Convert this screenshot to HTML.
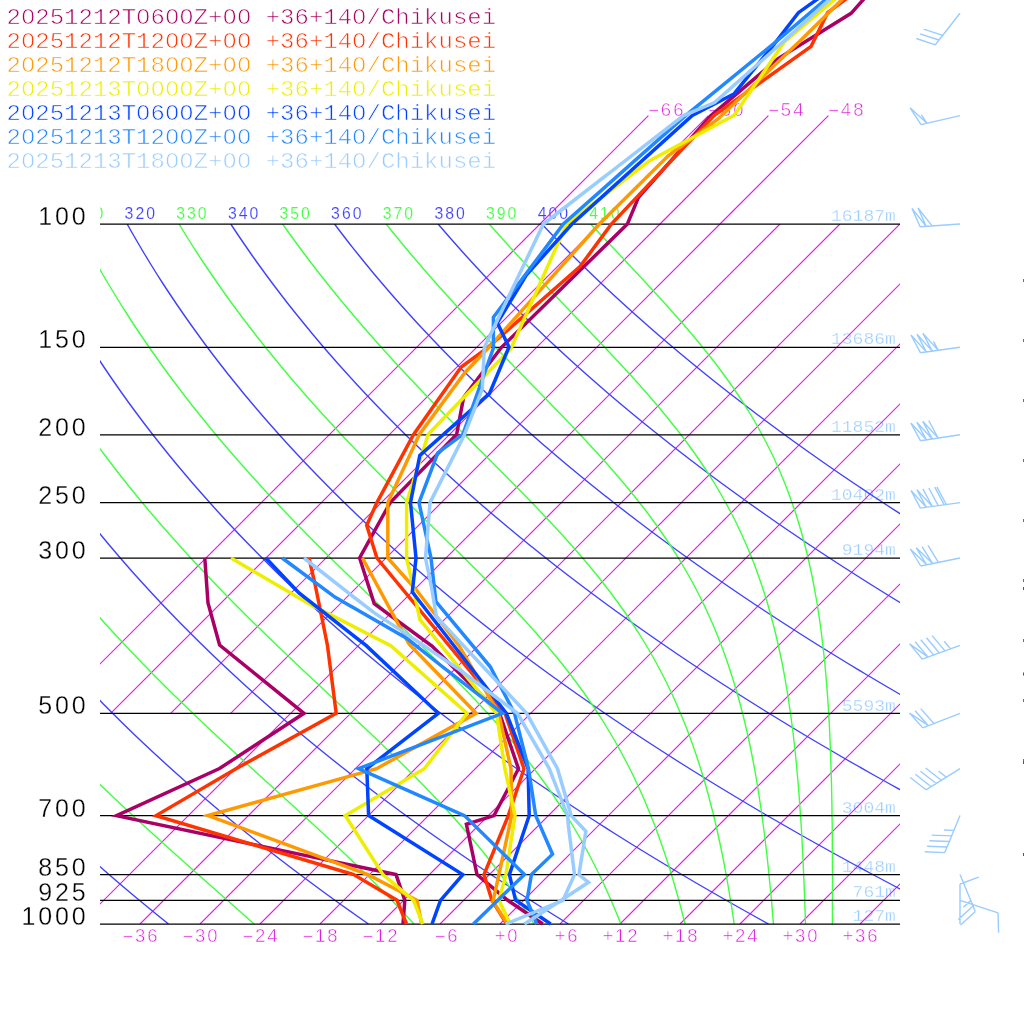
<!DOCTYPE html>
<html><head><meta charset="utf-8"><title>emagram</title>
<style>html,body{margin:0;padding:0;background:#fff}svg{display:block}</style></head>
<body><svg width="1024" height="1024" viewBox="0 0 1024 1024">
<defs><clipPath id="box"><rect x="100" y="224" width="800" height="700"/></clipPath>
<clipPath id="lab"><rect x="100" y="0" width="800" height="1024"/></clipPath></defs>
<rect width="1024" height="1024" fill="#fff"/>
<g opacity="0.999">
<g font-family="'Liberation Mono',monospace" font-size="24" transform="scale(1,0.934)" stroke="#fff" stroke-width="0.65">
<text x="6.5" y="25.7" fill="#aa0066" style="white-space:pre">20251212T0600Z+00 +36+140/Chikusei</text>
<text x="6.5" y="51.4" fill="#ff3300" style="white-space:pre">20251212T1200Z+00 +36+140/Chikusei</text>
<text x="6.5" y="77.1" fill="#ff9900" style="white-space:pre">20251212T1800Z+00 +36+140/Chikusei</text>
<text x="6.5" y="102.8" fill="#eeee00" style="white-space:pre">20251213T0000Z+00 +36+140/Chikusei</text>
<text x="6.5" y="128.5" fill="#0044ff" style="white-space:pre">20251213T0600Z+00 +36+140/Chikusei</text>
<text x="6.5" y="154.2" fill="#2288ff" style="white-space:pre">20251213T1200Z+00 +36+140/Chikusei</text>
<text x="6.5" y="179.9" fill="#99ccff" style="white-space:pre">20251213T1800Z+00 +36+140/Chikusei</text>
</g>
<path d="M28.2 16.5v0M143.4 16.5v0M172.2 16.5v0M186.6 16.5v0M229.8 16.5v0M244.2 16.5v0M359.4 16.5v0M28.2 40.5v0M172.2 40.5v0M186.6 40.5v0M229.8 40.5v0M244.2 40.5v0M359.4 40.5v0M28.2 64.5v0M172.2 64.5v0M186.6 64.5v0M229.8 64.5v0M244.2 64.5v0M359.4 64.5v0M28.2 88.5v0M143.4 88.5v0M157.8 88.5v0M172.2 88.5v0M186.6 88.5v0M229.8 88.5v0M244.2 88.5v0M359.4 88.5v0M28.2 112.5v0M143.4 112.5v0M172.2 112.5v0M186.6 112.5v0M229.8 112.5v0M244.2 112.5v0M359.4 112.5v0M28.2 136.5v0M172.2 136.5v0M186.6 136.5v0M229.8 136.5v0M244.2 136.5v0M359.4 136.5v0M28.2 160.5v0M172.2 160.5v0M186.6 160.5v0M229.8 160.5v0M244.2 160.5v0M359.4 160.5v0" fill="none" stroke="#fff" stroke-width="3.6" stroke-linecap="round"/>
<path d="M847.2 494.3v0M868.8 494.3v0M858 807.3v0M868.8 807.3v0" fill="none" stroke="#fff" stroke-width="2.7" stroke-linecap="round"/>
<g font-family="'Liberation Sans',sans-serif" font-size="25" fill="#000" text-anchor="middle" stroke="#fff" stroke-width="0.3">
<text x="45.2 62 78.7" y="225">100</text>
<text x="45.2 62 78.7" y="348.3">150</text>
<text x="45.2 62 78.7" y="435.7">200</text>
<text x="45.2 62 78.7" y="503.6">250</text>
<text x="45.2 62 78.7" y="559">300</text>
<text x="45.2 62 78.7" y="714.3">500</text>
<text x="45.2 62 78.7" y="816.6">700</text>
<text x="45.2 62 78.7" y="875.6">850</text>
<text x="45.2 62 78.7" y="901.3">925</text>
<text x="28.5 45.2 62 78.7" y="925">1000</text>
</g>
<g clip-path="url(#lab)" font-family="'Liberation Sans',sans-serif" font-size="15.8" letter-spacing="2.0" stroke="#fff" stroke-width="0.15">
<text x="73" y="218.7" fill="#40ff40">310</text>
<text x="124.6" y="218.7" fill="#4040ff">320</text>
<text x="176.2" y="218.7" fill="#40ff40">330</text>
<text x="227.9" y="218.7" fill="#4040ff">340</text>
<text x="279.5" y="218.7" fill="#40ff40">350</text>
<text x="331.1" y="218.7" fill="#4040ff">360</text>
<text x="382.8" y="218.7" fill="#40ff40">370</text>
<text x="434.4" y="218.7" fill="#4040ff">380</text>
<text x="486" y="218.7" fill="#40ff40">390</text>
<text x="537.7" y="218.7" fill="#4040ff">400</text>
<text x="589.3" y="218.7" fill="#40ff40">410</text>
</g>
<g font-family="'Liberation Sans',sans-serif" font-size="18.5" fill="#dd22dd" text-anchor="middle" stroke="#fff" stroke-width="0.5">
<text y="942.2"><tspan x="127.9" textLength="13" lengthAdjust="spacingAndGlyphs">-</tspan><tspan x="140.2">3</tspan><tspan x="152.5">6</tspan></text>
<text y="942.2"><tspan x="187.9" textLength="13" lengthAdjust="spacingAndGlyphs">-</tspan><tspan x="200.2">3</tspan><tspan x="212.5">0</tspan></text>
<text y="942.2"><tspan x="247.9" textLength="13" lengthAdjust="spacingAndGlyphs">-</tspan><tspan x="260.2">2</tspan><tspan x="272.5">4</tspan></text>
<text y="942.2"><tspan x="307.9" textLength="13" lengthAdjust="spacingAndGlyphs">-</tspan><tspan x="320.2">1</tspan><tspan x="332.5">8</tspan></text>
<text y="942.2"><tspan x="367.9" textLength="13" lengthAdjust="spacingAndGlyphs">-</tspan><tspan x="380.2">1</tspan><tspan x="392.5">2</tspan></text>
<text y="942.2"><tspan x="440.2" textLength="13" lengthAdjust="spacingAndGlyphs">-</tspan><tspan x="452.5">6</tspan></text>
<text y="942.2"><tspan x="500.2">+</tspan><tspan x="512.5">0</tspan></text>
<text y="942.2"><tspan x="560.2">+</tspan><tspan x="572.5">6</tspan></text>
<text y="942.2"><tspan x="607.9">+</tspan><tspan x="620.2">1</tspan><tspan x="632.5">2</tspan></text>
<text y="942.2"><tspan x="667.9">+</tspan><tspan x="680.2">1</tspan><tspan x="692.5">8</tspan></text>
<text y="942.2"><tspan x="727.9">+</tspan><tspan x="740.2">2</tspan><tspan x="752.5">4</tspan></text>
<text y="942.2"><tspan x="787.9">+</tspan><tspan x="800.2">3</tspan><tspan x="812.5">0</tspan></text>
<text y="942.2"><tspan x="847.9">+</tspan><tspan x="860.2">3</tspan><tspan x="872.5">6</tspan></text>
<text y="115.7"><tspan x="653.7" textLength="13" lengthAdjust="spacingAndGlyphs">-</tspan><tspan x="666">6</tspan><tspan x="678.3">6</tspan></text>
<text y="115.7"><tspan x="713.7" textLength="13" lengthAdjust="spacingAndGlyphs">-</tspan><tspan x="726">6</tspan><tspan x="738.3">0</tspan></text>
<text y="115.7"><tspan x="773.7" textLength="13" lengthAdjust="spacingAndGlyphs">-</tspan><tspan x="786">5</tspan><tspan x="798.3">4</tspan></text>
<text y="115.7"><tspan x="833.7" textLength="13" lengthAdjust="spacingAndGlyphs">-</tspan><tspan x="846">4</tspan><tspan x="858.3">8</tspan></text>
</g>
<g font-family="'Liberation Mono',monospace" font-size="18" fill="#99ccff" text-anchor="end" transform="scale(1,0.92)" stroke="#fff" stroke-width="0.35">
<text x="895.8" y="240.4">16187m</text>
<text x="895.8" y="374.4">13686m</text>
<text x="895.8" y="469.5">11852m</text>
<text x="895.8" y="543.2">10402m</text>
<text x="895.8" y="603.5">9194m</text>
<text x="895.8" y="772.3">5593m</text>
<text x="895.8" y="883.4">3004m</text>
<text x="895.8" y="947.6">1448m</text>
<text x="895.8" y="975.5">761m</text>
<text x="895.8" y="1001.3">127m</text>
</g>
<rect x="1023" y="279" width="1" height="3" fill="#dd22dd"/>
<rect x="1023" y="339" width="1" height="3" fill="#dd22dd"/>
<rect x="1023" y="399" width="1" height="3" fill="#dd22dd"/>
<rect x="1023" y="459" width="1" height="3" fill="#dd22dd"/>
<rect x="1023" y="519" width="1" height="3" fill="#dd22dd"/>
<rect x="1023" y="579" width="1" height="3" fill="#dd22dd"/>
<rect x="1023" y="639" width="1" height="3" fill="#dd22dd"/>
<rect x="1023" y="699" width="1" height="3" fill="#dd22dd"/>
<rect x="1023" y="759" width="1" height="3" fill="#dd22dd"/>
<rect x="1023" y="587" width="1" height="3" fill="#4040ff"/>
<rect x="1023" y="672.5" width="1" height="3" fill="#4040ff"/>
<rect x="1023" y="761" width="1" height="3" fill="#4040ff"/>
<rect x="1023" y="853" width="1" height="3" fill="#4040ff"/>
</g>
<g clip-path="url(#box)" fill="none" stroke-width="1.4">
<path stroke="#dd22dd" stroke-width="1.2" d="M50.7 713.3L540 224M110.7 713.3L600 224M170.7 713.3L660 224M230.7 713.3L720 224M80 924L780 224M140 924L840 224M200 924L900 224M260 924L960 224M320 924L1020 224M380 924L1080 224M440 924L1140 224M500 924L1200 224M560 924L1260 224M620 924L1320 224M680 924L1380 224M740 924L1440 224M800 924L1500 224M860 924L1560 224"/>
<path stroke="#4040ff" d="M-287.5 224L-285.8 234L-283.9 244L-282 254L-279.9 264L-277.7 274L-275.4 284L-273 294L-270.5 304L-267.9 314L-265.1 324L-262.2 334L-259.2 344L-256.1 354L-252.8 364L-249.4 374L-245.9 384L-242.3 394L-238.5 404L-234.6 414L-230.6 424L-226.4 434L-222.1 444L-217.7 454L-213.2 464L-208.5 474L-203.6 484L-198.6 494L-193.5 504L-188.3 514L-182.9 524L-177.3 534L-171.6 544L-165.8 554L-159.8 564L-153.6 574L-147.3 584L-140.9 594L-134.3 604L-127.5 614L-120.6 624L-113.5 634L-106.3 644L-98.9 654L-91.3 664L-83.6 674L-75.7 684L-67.6 694L-59.3 704L-50.9 714L-42.3 724L-33.6 734L-24.6 744L-15.5 754L-6.2 764L3.3 774L12.9 784L22.8 794L32.8 804L43 814L53.4 824L64.1 834L74.9 844L85.9 854L97.1 864L108.4 874L120 884L131.8 894L143.9 904L156.1 914L168.5 924M-183.9 224L-181.2 234L-178.3 244L-175.4 254L-172.3 264L-169.1 274L-165.8 284L-162.3 294L-158.8 304L-155 314L-151.2 324L-147.3 334L-143.2 344L-138.9 354L-134.6 364L-130.1 374L-125.4 384L-120.7 394L-115.8 404L-110.7 414L-105.5 424L-100.2 434L-94.7 444L-89.1 454L-83.3 464L-77.4 474L-71.3 484L-65.1 494L-58.7 504L-52.2 514L-45.5 524L-38.6 534L-31.6 544L-24.5 554L-17.1 564L-9.6 574L-2 584L5.8 594L13.8 604L22 614L30.3 624L38.8 634L47.5 644L56.4 654L65.4 664L74.6 674L84 684L93.6 694L103.3 704L113.3 714L123.4 724L133.7 734L144.3 744L155 754L165.9 764L177 774L188.3 784L199.8 794L211.5 804L223.4 814L235.5 824L247.8 834L260.4 844L273.1 854L286.1 864L299.3 874L312.7 884L326.3 894L340.1 904L354.2 914L368.5 924M-80.2 224L-76.5 234L-72.7 244L-68.7 254L-64.7 264L-60.4 274L-56.1 284L-51.6 294L-47 304L-42.2 314L-37.3 324L-32.3 334L-27.1 344L-21.8 354L-16.3 364L-10.7 374L-5 384L0.9 394L7 404L13.2 414L19.6 424L26.1 434L32.7 444L39.6 454L46.6 464L53.7 474L61 484L68.5 494L76.1 504L83.9 514L91.9 524L100.1 534L108.4 544L116.9 554L125.5 564L134.3 574L143.4 584L152.6 594L161.9 604L171.5 614L181.2 624L191.2 634L201.3 644L211.6 654L222.1 664L232.8 674L243.6 684L254.7 694L266 704L277.5 714L289.2 724L301.1 734L313.2 744L325.5 754L338 764L350.7 774L363.7 784L376.8 794L390.2 804L403.8 814L417.6 824L431.6 834L445.9 844L460.4 854L475.1 864L490.1 874L505.3 884L520.7 894L536.4 904L552.3 914L568.5 924M23.5 224L28.1 234L32.9 244L37.9 254L43 264L48.2 274L53.6 284L59.1 294L64.7 304L70.6 314L76.5 324L82.6 334L88.9 344L95.3 354L101.9 364L108.6 374L115.5 384L122.5 394L129.7 404L137.1 414L144.6 424L152.3 434L160.2 444L168.2 454L176.4 464L184.8 474L193.3 484L202.1 494L211 504L220 514L229.3 524L238.7 534L248.4 544L258.2 554L268.2 564L278.3 574L288.7 584L299.3 594L310 604L321 614L332.1 624L343.5 634L355 644L366.8 654L378.8 664L390.9 674L403.3 684L415.9 694L428.7 704L441.7 714L454.9 724L468.4 734L482.1 744L496 754L510.1 764L524.4 774L539 784L553.8 794L568.9 804L584.2 814L599.7 824L615.4 834L631.4 844L647.7 854L664.2 864L680.9 874L697.9 884L715.2 894L732.7 904L750.5 914L768.5 924M127.1 224L132.8 234L138.6 244L144.5 254L150.6 264L156.8 274L163.2 284L169.8 294L176.5 304L183.4 314L190.4 324L197.6 334L204.9 344L212.4 354L220.1 364L227.9 374L236 384L244.1 394L252.5 404L261 414L269.7 424L278.6 434L287.6 444L296.9 454L306.3 464L315.9 474L325.7 484L335.6 494L345.8 504L356.1 514L366.7 524L377.4 534L388.3 544L399.5 554L410.8 564L422.3 574L434.1 584L446 594L458.1 604L470.5 614L483 624L495.8 634L508.8 644L522 654L535.4 664L549.1 674L563 684L577.1 694L591.4 704L605.9 714L620.7 724L635.7 734L651 744L666.5 754L682.2 764L698.2 774L714.4 784L730.9 794L747.6 804L764.5 814L781.8 824L799.2 834L817 844L835 854L853.2 864L871.8 874L890.6 884L909.6 894L929 904L948.6 914L968.5 924M230.8 224L237.4 234L244.2 244L251.1 254L258.2 264L265.5 274L272.9 284L280.5 294L288.2 304L296.2 314L304.3 324L312.5 334L320.9 344L329.5 354L338.3 364L347.3 374L356.4 384L365.7 394L375.2 404L384.9 414L394.8 424L404.8 434L415.1 444L425.5 454L436.2 464L447 474L458 484L469.2 494L480.6 504L492.2 514L504.1 524L516.1 534L528.3 544L540.8 554L553.4 564L566.3 574L579.4 584L592.7 594L606.2 604L620 614L634 624L648.2 634L662.6 644L677.2 654L692.1 664L707.2 674L722.6 684L738.2 694L754.1 704L770.1 714L786.5 724L803 734L819.9 744L837 754L854.3 764L871.9 774L889.8 784L907.9 794L926.3 804L944.9 814L963.8 824L983 834L1002.5 844L1022.2 854L1042.3 864L1062.6 874L1083.2 884L1104.1 894L1125.3 904L1146.7 914L1168.5 924M334.5 224L342.1 234L349.8 244L357.8 254L365.9 264L374.1 274L382.6 284L391.2 294L400 304L409 314L418.1 324L427.5 334L437 344L446.7 354L456.6 364L466.6 374L476.9 384L487.3 394L498 404L508.8 414L519.9 424L531.1 434L542.5 444L554.2 454L566 464L578.1 474L590.3 484L602.8 494L615.5 504L628.4 514L641.5 524L654.8 534L668.3 544L682.1 554L696.1 564L710.3 574L724.8 584L739.4 594L754.3 604L769.5 614L784.9 624L800.5 634L816.3 644L832.5 654L848.8 664L865.4 674L882.3 684L899.4 694L916.7 704L934.4 714L952.2 724L970.4 734L988.8 744L1007.5 754L1026.4 764L1045.6 774L1065.1 784L1084.9 794L1104.9 804L1125.3 814L1145.9 824L1166.8 834L1188 844L1209.5 854L1231.3 864L1253.4 874L1275.8 884L1298.5 894L1321.5 904L1344.9 914L1368.5 924M438.1 224L446.7 234L455.5 244L464.4 254L473.5 264L482.8 274L492.3 284L501.9 294L511.7 304L521.8 314L532 324L542.4 334L553 344L563.8 354L574.8 364L586 374L597.4 384L608.9 394L620.7 404L632.7 414L644.9 424L657.4 434L670 444L682.8 454L695.9 464L709.1 474L722.6 484L736.4 494L750.3 504L764.5 514L778.8 524L793.5 534L808.3 544L823.4 554L838.7 564L854.3 574L870.1 584L886.1 594L902.4 604L919 614L935.8 624L952.8 634L970.1 644L987.7 654L1005.5 664L1023.6 674L1041.9 684L1060.5 694L1079.4 704L1098.6 714L1118 724L1137.7 734L1157.7 744L1178 754L1198.5 764L1219.4 774L1240.5 784L1261.9 794L1283.6 804L1305.7 814L1328 824L1350.6 834L1373.6 844L1396.8 854L1420.4 864L1444.3 874L1468.4 884L1493 894L1517.8 904L1543 914L1568.5 924M541.8 224L551.3 234L561.1 244L571 254L581.1 264L591.4 274L601.9 284L612.6 294L623.5 304L634.6 314L645.9 324L657.3 334L669 344L680.9 354L693 364L705.3 374L717.8 384L730.5 394L743.5 404L756.6 414L770 424L783.6 434L797.4 444L811.5 454L825.7 464L840.2 474L855 484L869.9 494L885.1 504L900.6 514L916.2 524L932.1 534L948.3 544L964.7 554L981.4 564L998.3 574L1015.4 584L1032.9 594L1050.5 604L1068.5 614L1086.7 624L1105.2 634L1123.9 644L1142.9 654L1162.2 664L1181.7 674L1201.6 684L1221.7 694L1242.1 704L1262.8 714L1283.8 724L1305 734L1326.6 744L1348.5 754L1370.6 764L1393.1 774L1415.9 784L1438.9 794L1462.3 804L1486 814L1510.1 824L1534.4 834L1559.1 844L1584.1 854L1609.4 864L1635.1 874L1661.1 884L1687.4 894L1714.1 904L1741.1 914L1768.5 924"/>
<path stroke="#40ff40" d="M-235.7 224L-233.5 234L-231.1 244L-228.7 254L-226.1 264L-223.4 274L-220.6 284L-217.7 294L-214.6 304L-211.5 314L-208.2 324L-204.7 334L-201.2 344L-197.5 354L-193.7 364L-189.7 374L-185.7 384L-181.5 394L-177.1 404L-172.7 414L-168.1 424L-163.3 434L-158.4 444L-153.4 454L-148.2 464L-142.9 474L-137.5 484L-131.9 494L-126.1 504L-120.2 514L-114.2 524L-108 534L-101.6 544L-95.1 554L-88.5 564L-81.6 574L-74.7 584L-67.5 594L-60.2 604L-52.8 614L-45.2 624L-37.4 634L-29.4 644L-21.3 654L-13 664L-4.6 674L4.1 684L12.8 694L21.8 704L30.9 714L40.2 724L49.7 734L59.3 744L69.1 754L79.1 764L89.2 774L99.5 784L109.9 794L120.5 804L131.2 814L142 824L153 834L164 844L175.1 854L186.3 864L197.6 874L208.9 884L220.2 894L231.6 904L242.9 914L254.1 924M-132 224L-128.8 234L-125.5 244L-122.1 254L-118.5 264L-114.8 274L-110.9 284L-107 294L-102.9 304L-98.6 314L-94.3 324L-89.8 334L-85.1 344L-80.4 354L-75.5 364L-70.4 374L-65.2 384L-59.9 394L-54.4 404L-48.8 414L-43 424L-37.1 434L-31 444L-24.7 454L-18.4 464L-11.8 474L-5.1 484L1.7 494L8.7 504L15.9 514L23.2 524L30.7 534L38.3 544L46.2 554L54.1 564L62.3 574L70.6 584L79.1 594L87.7 604L96.5 614L105.5 624L114.7 634L124 644L133.5 654L143.1 664L152.9 674L162.8 684L172.9 694L183.2 704L193.6 714L204.1 724L214.7 734L225.4 744L236.2 754L247.1 764L258 774L269 784L280 794L291 804L301.9 814L312.8 824L323.7 834L334.4 844L345 854L355.4 864L365.7 874L375.8 884L385.7 894L395.3 904L404.7 914L413.9 924M-28.4 224L-24.2 234L-19.9 244L-15.4 254L-10.8 264L-6.1 274L-1.3 284L3.7 294L8.9 304L14.2 314L19.6 324L25.2 334L30.9 344L36.7 354L42.8 364L48.9 374L55.3 384L61.7 394L68.4 404L75.1 414L82.1 424L89.2 434L96.4 444L103.9 454L111.5 464L119.2 474L127.1 484L135.2 494L143.4 504L151.8 514L160.4 524L169.2 534L178.1 544L187.1 554L196.4 564L205.8 574L215.3 584L225 594L234.8 604L244.8 614L254.9 624L265.2 634L275.5 644L286 654L296.5 664L307.1 674L317.8 684L328.4 694L339.1 704L349.8 714L360.5 724L371.1 734L381.5 744L391.9 754L402.2 764L412.2 774L422.1 784L431.8 794L441.3 804L450.5 814L459.4 824L468.1 834L476.6 844L484.7 854L492.6 864L500.2 874L507.5 884L514.5 894L521.3 904L527.8 914L534.1 924M75.3 224L80.5 234L85.8 244L91.2 254L96.8 264L102.5 274L108.4 284L114.4 294L120.6 304L127 314L133.4 324L140.1 334L146.9 344L153.9 354L161 364L168.2 374L175.7 384L183.3 394L191 404L199 414L207.1 424L215.3 434L223.7 444L232.3 454L241.1 464L250 474L259 484L268.2 494L277.6 504L287.1 514L296.8 524L306.6 534L316.5 544L326.6 554L336.7 564L347 574L357.3 584L367.7 594L378.1 604L388.5 614L398.9 624L409.3 634L419.7 644L429.9 654L440.1 664L450.1 674L459.9 684L469.6 694L479 704L488.3 714L497.2 724L506 734L514.4 744L522.6 754L530.5 764L538.1 774L545.4 784L552.4 794L559.1 804L565.6 814L571.8 824L577.7 834L583.4 844L588.8 854L594 864L599 874L603.8 884L608.3 894L612.7 904L616.9 914L620.9 924M179 224L185.1 234L191.4 244L197.8 254L204.4 264L211.2 274L218.1 284L225.1 294L232.3 304L239.7 314L247.3 324L255 334L262.8 344L270.9 354L279.1 364L287.4 374L295.9 384L304.6 394L313.4 404L322.4 414L331.6 424L340.8 434L350.3 444L359.8 454L369.5 464L379.3 474L389.2 484L399.2 494L409.3 504L419.5 514L429.6 524L439.8 534L450 544L460.2 554L470.3 564L480.3 574L490.2 584L499.9 594L509.5 604L518.9 614L528 624L537 634L545.6 644L554 654L562.2 664L570 674L577.5 684L584.8 694L591.7 704L598.4 714L604.7 724L610.8 734L616.6 744L622.1 754L627.4 764L632.4 774L637.2 784L641.8 794L646.1 804L650.2 814L654.2 824L657.9 834L661.5 844L664.9 854L668.2 864L671.3 874L674.3 884L677.1 894L679.9 904L682.5 914L685 924M282.6 224L289.7 234L297 244L304.4 254L312 264L319.7 274L327.6 284L335.7 294L343.9 304L352.3 314L360.8 324L369.5 334L378.4 344L387.4 354L396.5 364L405.8 374L415.2 384L424.8 394L434.4 404L444.2 414L454 424L463.9 434L473.8 444L483.8 454L493.8 464L503.7 474L513.6 484L523.4 494L533.2 504L542.7 514L552.2 524L561.4 534L570.4 544L579.2 554L587.7 564L596 574L603.9 584L611.6 594L619 604L626.1 614L632.8 624L639.3 634L645.4 644L651.3 654L656.9 664L662.2 674L667.2 684L672 694L676.5 704L680.8 714L684.9 724L688.8 734L692.4 744L695.9 754L699.2 764L702.3 774L705.3 784L708.1 794L710.7 804L713.3 814L715.7 824L717.9 834L720.1 844L722.2 854L724.2 864L726 874L727.8 884L729.5 894L731.2 904L732.7 914L734.2 924M386.1 224L394.2 234L402.4 244L410.7 254L419.3 264L427.9 274L436.7 284L445.7 294L454.8 304L464 314L473.4 324L482.8 334L492.4 344L502 354L511.7 364L521.5 374L531.2 384L541 394L550.8 404L560.4 414L570.1 424L579.6 434L588.9 444L598.1 454L607.1 464L615.8 474L624.4 484L632.6 494L640.6 504L648.3 514L655.6 524L662.7 534L669.5 544L675.9 554L682 564L687.8 574L693.4 584L698.6 594L703.6 604L708.2 614L712.7 624L716.9 634L720.8 644L724.5 654L728 664L731.3 674L734.4 684L737.4 694L740.1 704L742.7 714L745.2 724L747.5 734L749.7 744L751.7 754L753.7 764L755.5 774L757.2 784L758.8 794L760.3 804L761.8 814L763.1 824L764.4 834L765.6 844L766.8 854L767.9 864L768.9 874L769.9 884L770.9 894L771.8 904L772.6 914L773.4 924M489.2 224L498.1 234L507.1 244L516.2 254L525.5 264L534.8 274L544.2 284L553.7 294L563.3 304L572.9 314L582.5 324L592 334L601.6 344L611 354L620.3 364L629.6 374L638.6 384L647.4 394L656.1 404L664.4 414L672.5 424L680.4 434L687.9 444L695.1 454L702 464L708.6 474L714.9 484L720.8 494L726.4 504L731.8 514L736.8 524L741.5 534L746 544L750.2 554L754.2 564L757.9 574L761.3 584L764.6 594L767.7 604L770.5 614L773.2 624L775.7 634L778 644L780.2 654L782.3 664L784.2 674L785.9 684L787.6 694L789.1 704L790.6 714L791.9 724L793.2 734L794.3 744L795.4 754L796.4 764L797.3 774L798.2 784L799 794L799.7 804L800.4 814L801.1 824L801.7 834L802.2 844L802.7 854L803.2 864L803.6 874L804.1 884L804.5 894L804.8 904L805.2 914L805.5 924M590.7 224L600 234L609.4 244L618.9 254L628.3 264L637.7 274L647 284L656.2 294L665.4 304L674.3 314L683.1 324L691.7 334L700 344L708.1 354L715.9 364L723.4 374L730.6 384L737.5 394L744 404L750.3 414L756.2 424L761.7 434L767 444L772 454L776.6 464L781 474L785.1 484L788.9 494L792.5 504L795.9 514L799 524L801.9 534L804.6 544L807.1 554L809.4 564L811.6 574L813.6 584L815.4 594L817.2 604L818.7 614L820.2 624L821.5 634L822.7 644L823.8 654L824.9 664L825.8 674L826.6 684L827.4 694L828.1 704L828.7 714L829.3 724L829.8 734L830.2 744L830.6 754L830.9 764L831.2 774L831.5 784L831.7 794L831.9 804L832 814L832.2 824L832.3 834L832.3 844L832.4 854L832.4 864L832.5 874L832.5 884L832.4 894L832.4 904L832.4 914L832.4 924"/>
</g>
<path fill="none" stroke="#dd22dd" stroke-width="1.2" d="M540 224L648.4 115.6M600 224L708.4 115.6M660 224L768.4 115.6M720 224L828.4 115.6"/>
<path fill="none" stroke="#000" stroke-width="1.3" d="M100 224.10H900M100 347.36H900M100 434.82H900M100 502.66H900M100 558.08H900M100 713.38H900M100 815.67H900M100 874.69H900M100 900.40H900M100 924.10H900"/>
<path fill="none" stroke="#99ccff" stroke-width="1.4" stroke-linejoin="miter" d="M960 13.3L935.3 44.8M935.3 44.8L916.3 38.5M939 40L920 33.8M942.7 35.3L923.7 29.1M960 115.6L921 124.6M921 124.6L910.1 107.8L926.9 123.2M926.9 123.2L921.4 114.8M960 224L920.1 226.7M920.1 226.7L912 208.4L926.1 226.3M926.1 226.3L918 208L932.1 225.9M960 347.3L920.4 352.7M920.4 352.7L911 335L926.3 351.9M926.3 351.9L917 334.2L932.3 351.1M932.3 351.1L922.9 333.4L938.2 350.2M938.2 350.2L933.5 341.4M960 434.7L920.4 440.7M920.4 440.7L910.9 423.1L926.4 439.8M926.4 439.8L916.8 422.2L932.3 438.9M932.3 438.9L922.7 421.3L938.2 438M938.2 438L928.7 420.5M960 502.6L920.4 508.1M920.4 508.1L911 490.5L926.3 507.3M926.3 507.3L916.9 489.6L932.3 506.5M932.3 506.5L922.9 488.8M938.2 505.6L928.8 488M944.2 504.8L934.8 487.1M946.3 504.5L936.9 486.8M960 558L920.8 566M920.8 566L910.3 549L926.7 564.8M926.7 564.8L916.2 547.8L932.6 563.6M932.6 563.6L922.1 546.6M938.4 562.4L928 545.4M960 645.4L922.4 659.2M922.4 659.2L909.6 643.9L928.1 657.1M928.1 657.1L915.2 641.8M933.7 655.1L920.8 639.8M939.3 653L926.5 637.7M945 650.9L932.1 635.6M950.6 648.9L944.2 641.2M960 713.3L922.8 727.9M922.8 727.9L909.5 713L928.4 725.7M928.4 725.7L915.1 710.8M933.9 723.5L920.7 708.6M960 768.7L926 789.8M926 789.8L910.3 777.5M931.1 786.7L915.4 774.3M936.2 783.5L920.5 771.2M941.3 780.3L925.6 768M946.4 777.2L938.5 771M960 815.6L944.8 852.6M944.8 852.6L924.8 851.8M947.1 847L927.1 846.2M949.4 841.5L929.4 840.7M951.7 835.9L931.7 835.1M953.9 830.4L943.9 830M960 874.6L975.3 911.5M975.3 911.5L960.6 925.1M973 906L958.3 919.5M970.7 900.5L963.3 907.2M960 900.3L998 912.8M998 912.8L998.6 932.8M960 924L960 884M960 884L978.8 877.2"/>
<polyline fill="none" stroke="#aa0066" stroke-width="3.5" stroke-linejoin="miter" points="871.9,-10 851.1,13.3 778.1,58.6 711,115.6 638.5,197.4 627.4,224 501.5,347.3 463.6,397.5 456.6,434.5 390.2,502.6 359.6,558 374.2,603.6 432,646 499.5,713.3 518.5,768.7 494,815.6 466.4,824.3 477,874.6 507.7,900.3 542.8,924"/>
<polyline fill="none" stroke="#aa0066" stroke-width="3.5" stroke-linejoin="miter" points="204.8,558 208,603 219.6,645 304,713.3 219.5,768.5 116.5,815.6 396,874.6 404.8,900.3 403,924"/>
<polyline fill="none" stroke="#ff3300" stroke-width="3.5" stroke-linejoin="miter" points="858.2,-10 827.6,12.7 811.1,46.3 714,115.6 611.4,224 580,266.6 488,347.3 461.2,367 413.6,434.5 376.9,502.6 366.7,525.3 376.9,558 505,713.3 524,768.7 508.3,815.6 484,874.6 491.9,900.3 506.8,924"/>
<polyline fill="none" stroke="#ff3300" stroke-width="3.5" stroke-linejoin="miter" points="309,558 315,584 327.4,645 336.2,713.3 236,768.7 156,815.6 353.7,874.6 397,900.3 406.5,924"/>
<polyline fill="none" stroke="#ff9900" stroke-width="3.5" stroke-linejoin="miter" points="851.7,-10 800,41 718,119 668,156 599.3,224 489,347.3 465,372.5 419.2,434.7 387.8,502.6 387.8,558 416.4,590 458.8,645.4 498.7,713.3 511,768.7 511.7,815.6 498.9,874.6 493,901.5 507.7,924"/>
<polyline fill="none" stroke="#ff9900" stroke-width="3.5" stroke-linejoin="miter" points="362.4,558 409,644 476.1,713.3 376.5,768.7 208,815.6 368,874.6 417,900.3 421.7,924"/>
<polyline fill="none" stroke="#eeee00" stroke-width="3.5" stroke-linejoin="miter" points="845.8,-10 784.4,41.9 734.2,115.2 649.2,161 566.6,224 511,348.5 428.3,434.2 422.2,453.4 406.6,502.6 406.6,558 413.7,590 419.8,619.4 496.5,713.3 504.9,768.7 515,815.6 505.9,874.6 498.9,900.3 510.3,924"/>
<polyline fill="none" stroke="#eeee00" stroke-width="3.5" stroke-linejoin="miter" points="231,558 311,604.9 390.8,645.6 467,713.3 424.3,768.7 345.3,815.6 383,874.6 413.5,900.3 422.9,924"/>
<polyline fill="none" stroke="#0044ff" stroke-width="3.5" stroke-linejoin="miter" points="830.2,-10 798.4,12.7 774,44.4 734.2,93.7 692.3,115.4 572,224 526.3,275 497.3,322.8 509,347 489.4,393.6 419.8,455.5 410.5,502.6 416,558 412.3,592 506.4,713.3 528.1,768.7 529.2,815.6 509.4,874.6 515.6,900.3 550.7,924"/>
<polyline fill="none" stroke="#0044ff" stroke-width="3.5" stroke-linejoin="miter" points="265.8,558 299,593 366,645.4 438.3,713.3 366.8,768.7 368.6,815.6 462.8,874.6 440.5,900.3 432,924"/>
<polyline fill="none" stroke="#2288ff" stroke-width="3.5" stroke-linejoin="miter" points="836.7,-10 778.1,40 685.5,115.6 563.4,224 493.4,317.3 493.4,348 462.8,434.5 437.8,452.8 419,502.6 431,558 435.9,601.6 490.3,666.8 514.5,713.3 528.5,768.7 535.7,815.6 552.5,854.2 531.4,874.6 527,900.3 536.7,924"/>
<polyline fill="none" stroke="#2288ff" stroke-width="3.5" stroke-linejoin="miter" points="282.2,558 335.3,597.3 407.4,638.8 439.6,664.5 502.5,713.3 358.5,768.7 464.5,815.6 524.4,874.6 497.8,900.3 473.4,924"/>
<polyline fill="none" stroke="#99ccff" stroke-width="3.5" stroke-linejoin="miter" points="839.9,-10 785,40 714.6,102.5 683.5,115.6 543.4,224 484.3,347.5 482.3,389 464.4,434.7 430,502.6 425.5,558 432,590 436.4,616.8 526.6,713.3 557.5,768.7 571.2,815.6 585.9,831.3 578.9,874.6 588.5,882.3 561.3,900.3 524.4,924"/>
<polyline fill="none" stroke="#99ccff" stroke-width="3.5" stroke-linejoin="miter" points="304,558 350,594.2 375,613.4 400,629.6 458.8,669.3 517.4,713.3 549.3,768.7 567.6,815.6 568.3,825 574.5,874.6 563,900.3 505.9,924"/>
</svg></body></html>
